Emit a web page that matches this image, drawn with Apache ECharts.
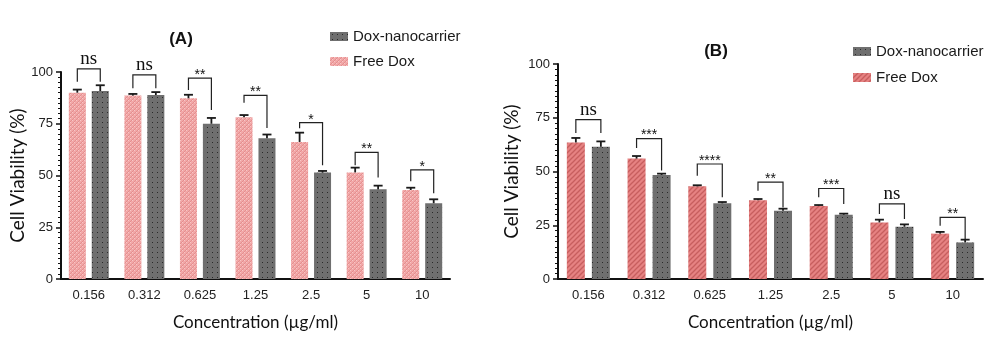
<!DOCTYPE html>
<html><head><meta charset="utf-8">
<script src="https://cdn.jsdelivr.net/npm/echarts@6/dist/echarts.min.js"></script>
<style>html,body{margin:0;padding:0;background:#fff}#c{width:1000px;height:342px}</style>
</head><body><div id="c"></div>
<script>
// ---------- data ----------
const categories = ['0.156','0.312','0.625','1.25','2.5','5','10'];
const yTicks = [0,25,50,75,100];
// Panel A
const freeA    = [90.0, 88.6, 87.3, 78.1, 66.2, 51.5, 43.0];
const freeErrA = [1.5, 0.8, 1.7, 1.1, 4.5, 2.3, 1.1];
const nanoA    = [90.8, 88.9, 75.0, 68.0, 51.4, 43.3, 36.6];
const nanoErrA = [2.8, 1.4, 2.8, 1.8, 0.8, 1.8, 1.9];
const sigA      = ['ns','ns','**','**','*','**','*'];
const sigTopA   = [101.5, 98.6, 97.0, 88.7, 75.5, 61.2, 52.7];
const sigLeftA  = [95.3, 92.2, 91.3, 85.2, 72.8, 55.0, 47.2];
const sigRightA = [95.3, 92.2, 81.6, 73.0, 55.0, 49.0, 41.4];
// Panel B
const freeB    = [63.5, 56.0, 43.1, 36.6, 34.0, 26.3, 21.1];
const freeErrB = [2.1, 1.2, 0.5, 0.6, 0.4, 1.3, 0.8];
const nanoB    = [61.5, 48.4, 35.2, 31.8, 29.9, 24.3, 17.0];
const nanoErrB = [2.5, 0.6, 0.6, 0.9, 0.5, 1.1, 1.3];
const sigB      = ['ns','***','****','**','***','ns','**'];
const sigTopB   = [74.1, 65.3, 53.5, 45.1, 42.1, 34.9, 28.7];
const sigLeftB  = [67.9, 60.9, 48.0, 41.0, 38.0, 30.2, 24.8];
const sigRightB = [67.9, 50.5, 38.0, 33.2, 34.9, 27.9, 18.6];

// ---------- patterns ----------
function tile(w, h, draw) {
  const c = document.createElement('canvas'); c.width = w; c.height = h;
  const g = c.getContext('2d'); draw(g); return {image: c, repeat: 'repeat'};
}
const pinkA = tile(4, 4, g => {
  g.fillStyle = '#f2a7a7'; g.fillRect(0,0,4,4);
  g.fillStyle = '#e38f8f';
  g.fillRect(0,3,1,1); g.fillRect(1,2,1,1); g.fillRect(2,1,1,1); g.fillRect(3,0,1,1);
  g.fillStyle = '#f8c6c6';
  g.fillRect(0,0,1,1); g.fillRect(2,2,1,1);
});
const pinkB = tile(5, 5, g => {
  g.fillStyle = '#e68282'; g.fillRect(0,0,5,5);
  g.strokeStyle = '#c75e5e'; g.lineWidth = 1.3;
  g.beginPath(); g.moveTo(-1,6); g.lineTo(6,-1); g.stroke();
  g.beginPath(); g.moveTo(-1,1); g.lineTo(1,-1); g.stroke();
  g.beginPath(); g.moveTo(4,6); g.lineTo(6,4); g.stroke();
});
const grey = tile(5, 5, g => {
  g.fillStyle = '#6f6f6f'; g.fillRect(0,0,5,5);
  g.fillStyle = '#2a2a2a'; g.fillRect(2,2,1,1);
});

// ---------- layout constants ----------
const BW = [17, 18];
const GAP = [0.35, 0.39];
const FONT = 'Liberation Sans, Arial, sans-serif';
const NARROW = 'Liberation Sans Narrow, Liberation Sans, Arial, sans-serif';
const NAMEFONT = 'Lato, Open Sans, sans-serif';

function errSeries(gi, vals, errs, sign) {
  const off = sign * BW[gi] * (1 + GAP[gi]) / 2;
  return {
    type: 'custom', xAxisIndex: gi, yAxisIndex: gi, silent: true, z: 4,
    data: vals.map((v, i) => [i, v, v + errs[i]]),
    renderItem(params, api) {
      const p0 = api.coord([api.value(0), api.value(1)]);
      const p1 = api.coord([api.value(0), api.value(2)]);
      const x = p0[0] + off;
      const st = {stroke: '#1a1a1a', lineWidth: 1.8};
      return {type: 'group', children: [
        {type: 'line', shape: {x1: x, y1: p0[1], x2: x, y2: p1[1]}, style: st},
        {type: 'line', shape: {x1: x - 4.5, y1: p1[1], x2: x + 4.5, y2: p1[1]}, style: st}
      ]};
    }
  };
}
function sigSeries(gi, tops, lefts, rights, labels) {
  const off = BW[gi] * (1 + GAP[gi]) / 2;
  return {
    type: 'custom', xAxisIndex: gi, yAxisIndex: gi, silent: true, z: 5, clip: false,
    data: tops.map((t, i) => [i, t, lefts[i], rights[i]]),
    renderItem(params, api) {
      const i = api.value(0);
      const pt = api.coord([i, api.value(1)]);
      const pl = api.coord([i, api.value(2)]);
      const pr = api.coord([i, api.value(3)]);
      const xl = pt[0] - off, xr = pt[0] + off;
      const lab = labels[params.dataIndex];
      const ns = lab === 'ns';
      return {type: 'group', children: [
        {type: 'polyline', shape: {points: [[xl, pl[1]], [xl, pt[1]], [xr, pt[1]], [xr, pr[1]]]},
         style: {stroke: '#222', lineWidth: 1.2, fill: null}},
        {type: 'text', x: pt[0], y: ns ? pt[1] - 10 : pt[1] - 3,
         style: {text: lab, align: 'center', verticalAlign: 'middle', fill: '#111',
                 font: ns ? '19px "Liberation Serif", "Times New Roman", serif' : '14px "Liberation Sans", Arial, sans-serif'}}
      ]};
    }
  };
}
function xAx(gi) {
  return {
    type: 'category', gridIndex: gi, data: categories,
    axisLine: {lineStyle: {color: '#111', width: 2}},
    axisTick: {alignWithLabel: true, length: 5, lineStyle: {color: '#111', width: 1.5}},
    axisLabel: {color: '#222', fontSize: 13, fontFamily: NARROW, margin: 10},
    name: 'Concentration (\u00b5g/ml)', nameLocation: 'middle', nameGap: 35,
    nameTextStyle: {color: '#111', fontSize: 17, fontFamily: NAMEFONT}
  };
}
function yAx(gi, gap) {
  return {
    type: 'value', gridIndex: gi, min: yTicks[0], max: yTicks[yTicks.length - 1], interval: 25,
    splitLine: {show: false},
    axisLine: {show: true, lineStyle: {color: '#111', width: 2}},
    axisTick: {show: true, length: 5, lineStyle: {color: '#111', width: 1.5}},
    minorTick: {show: true, splitNumber: 10, length: 3, lineStyle: {color: '#111', width: 1}},
    axisLabel: {color: '#222', fontSize: 13, fontFamily: NARROW, margin: 8},
    name: 'Cell Viability (%)', nameLocation: 'middle', nameGap: gap, nameRotate: 90,
    nameTextStyle: {color: '#111', fontSize: 19, fontFamily: NAMEFONT}
  };
}
function legend(left, top, gap, data) {
  return {
    orient: 'vertical', left, top, itemGap: gap, itemWidth: 18, itemHeight: 9, icon: 'rect',
    padding: 0, data, selectedMode: false,
    formatter: n => n.replace(/^B:/, ''),
    textStyle: {color: '#1a1a1a', fontSize: 15, fontFamily: FONT}
  };
}

const chart = echarts.init(document.getElementById('c'), null, {renderer: 'canvas'});
chart.setOption({
  animation: false,
  backgroundColor: '#fff',
  title: [
    {text: '(A)', left: 176, top: 26, textAlign: 'center', textStyle: {fontSize: 17, fontWeight: 'bold', color: '#111', fontFamily: FONT}},
    {text: '(B)', left: 711, top: 38, textAlign: 'center', textStyle: {fontSize: 17, fontWeight: 'bold', color: '#111', fontFamily: FONT}}
  ],
  legend: [
    legend(330, 29, 10, ['Dox-nanocarrier', 'Free Dox']),
    legend(853, 44, 11, ['B:Dox-nanocarrier', 'B:Free Dox'])
  ],
  grid: [
    {left: 61, top: 72, width: 389, height: 207},
    {left: 558, top: 64, width: 425, height: 215}
  ],
  xAxis: [xAx(0), xAx(1)],
  yAxis: [yAx(0, 32), yAx(1, 37)],
  series: [
    {name: 'Free Dox', type: 'bar', xAxisIndex: 0, yAxisIndex: 0, data: freeA, barWidth: BW[0], itemStyle: {color: pinkA}},
    {name: 'Dox-nanocarrier', type: 'bar', xAxisIndex: 0, yAxisIndex: 0, data: nanoA, barWidth: BW[0], barGap: (GAP[0]*100)+'%', itemStyle: {color: grey}},
    {name: 'B:Free Dox', type: 'bar', xAxisIndex: 1, yAxisIndex: 1, data: freeB, barWidth: BW[1], itemStyle: {color: pinkB}},
    {name: 'B:Dox-nanocarrier', type: 'bar', xAxisIndex: 1, yAxisIndex: 1, data: nanoB, barWidth: BW[1], barGap: (GAP[1]*100)+'%', itemStyle: {color: grey}},
    errSeries(0, freeA, freeErrA, -1),
    errSeries(0, nanoA, nanoErrA, 1),
    errSeries(1, freeB, freeErrB, -1),
    errSeries(1, nanoB, nanoErrB, 1),
    sigSeries(0, sigTopA, sigLeftA, sigRightA, sigA),
    sigSeries(1, sigTopB, sigLeftB, sigRightB, sigB)
  ]
});
</script>
</body></html>
